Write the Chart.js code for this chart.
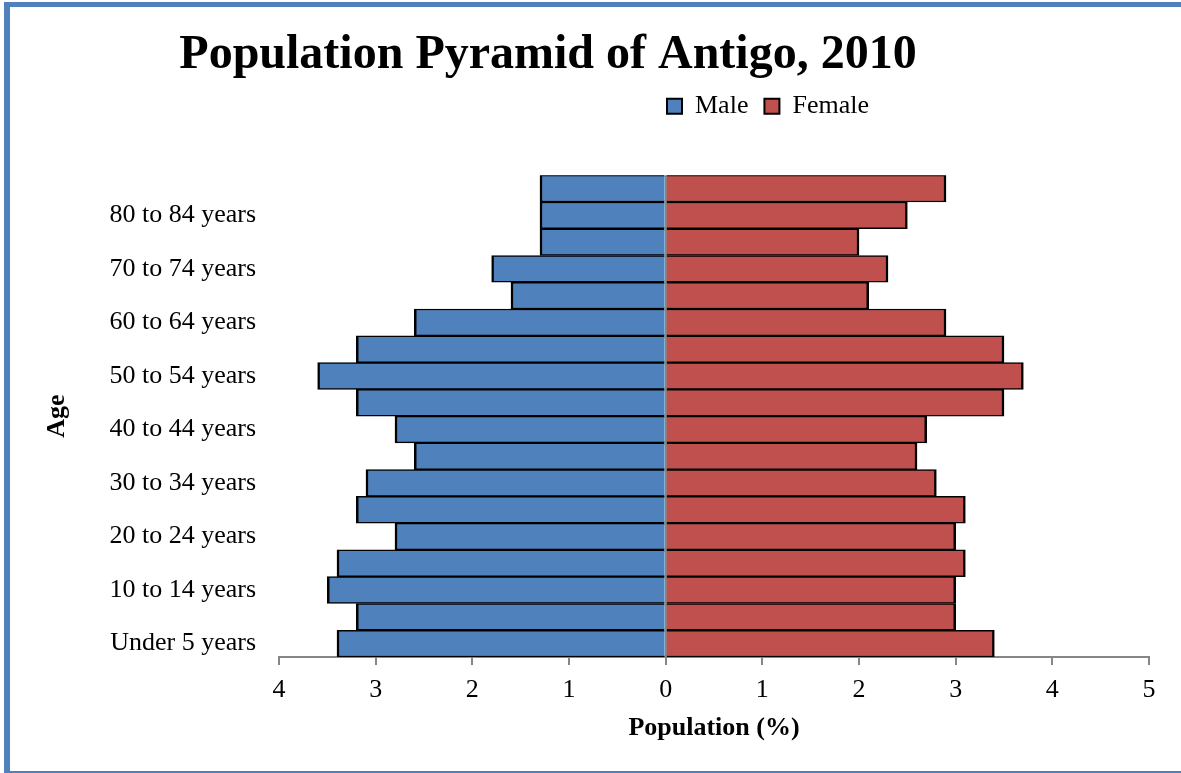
<!DOCTYPE html>
<html>
<head>
<meta charset="utf-8">
<script src="https://cdn.jsdelivr.net/npm/chart.js@4.4.1/dist/chart.umd.min.js"></script>
<style>
  html, body { margin: 0; padding: 0; background: #fff; overflow: hidden; }
  #wrap { position: relative; width: 1181px; height: 773px; }
  #frame { position: absolute; left: 4px; top: 2px; width: 1260px; height: 771px; box-sizing: border-box;
           border-left: 6px solid #4F81BD; border-top: 5px solid #4F81BD; border-bottom: 2px solid #4F81BD; pointer-events: none; }
  canvas { position: absolute; left: 0; top: 0; }
</style>
</head>
<body>
<div id="wrap">
  <canvas id="c" width="1181" height="773"></canvas>
  <div id="frame"></div>
</div>
<script>
const categories = ['Under 5 years','5 to 9 years','10 to 14 years','15 to 19 years','20 to 24 years','25 to 29 years','30 to 34 years','35 to 39 years','40 to 44 years','45 to 49 years','50 to 54 years','55 to 59 years','60 to 64 years','65 to 69 years','70 to 74 years','75 to 79 years','80 to 84 years','85 years and over'];
const maleValues = [3.4, 3.2, 3.5, 3.4, 2.8, 3.2, 3.1, 2.6, 2.8, 3.2, 3.6, 3.2, 2.6, 1.6, 1.8, 1.3, 1.3, 1.3];
const femaleValues = [3.4, 3.0, 3.0, 3.1, 3.0, 3.1, 2.8, 2.6, 2.7, 3.5, 3.7, 3.5, 2.9, 2.1, 2.3, 2.0, 2.5, 2.9];
const xTickMin = -4;
const xTickMax = 5;
const titleText = 'Population Pyramid of Antigo, 2010';
const xTitle = 'Population (%)';
const yTitle = 'Age';

const SERIF = '"Liberation Serif", "Times New Roman", serif';

const shiftPlugin = {
  id: 'shiftBlocks',
  afterLayout(chart) {
    const t = chart.titleBlock;
    if (t) { const d = 548 - (t.left + t.right) / 2; t.left += d; t.right += d; }
    const lg = chart.legend;
    if (lg && lg.lineWidths) {
      const pad = lg.options.labels.padding;
      const cur = (lg.left + pad + lg.right - lg.lineWidths[0]) / 2;
      const d = 667 - cur;
      lg.left += d; lg.right += d;
    }
  }
};

const barBorder = {top: 1.5, bottom: 1.5, left: 2.5, right: 2.5};

new Chart(document.getElementById('c'), {
  type: 'bar',
  data: {
    labels: categories,
    datasets: [
      { label: 'Male', data: maleValues.map(v => -v), backgroundColor: '#4F81BD', borderColor: '#000000',
        borderWidth: barBorder, borderSkipped: 'start',
        categoryPercentage: 1, barPercentage: 1 },
      { label: 'Female', data: femaleValues, backgroundColor: '#C0504D', borderColor: '#000000',
        borderWidth: barBorder, borderSkipped: 'start',
        categoryPercentage: 1, barPercentage: 1 }
    ]
  },
  options: {
    indexAxis: 'y',
    responsive: false,
    animation: false,
    devicePixelRatio: 1,
    layout: { padding: { top: 0, left: 30, right: 32, bottom: 10 } },
    plugins: {
      title: { display: true, text: titleText, color: '#000',
        font: { family: SERIF, size: 48, weight: 'bold', lineHeight: 0.9 },
        padding: { top: 34, bottom: 0 } },
      subtitle: { display: true, text: '', weight: 500, font: { size: 10, lineHeight: 1 }, padding: { top: 0, bottom: 36 } },
      legend: { display: true, position: 'top',
        labels: { color: '#000', font: { family: SERIF, size: 26 }, boxWidth: 15, boxHeight: 15, padding: 16,
          generateLabels(chart) {
            const items = Chart.defaults.plugins.legend.labels.generateLabels(chart);
            return items.map(it => Object.assign(it, { lineWidth: 2, strokeStyle: '#000000' }));
          } } },
      tooltip: { enabled: false }
    },
    scales: {
      x: {
        type: 'linear', stacked: true, min: xTickMin, max: xTickMax, z: 1,
        afterFit(scale) { scale.height = 106; },
        ticks: { stepSize: 1, color: '#000', font: { family: SERIF, size: 26 }, padding: 10,
          callback: v => String(Math.abs(v)) },
        grid: { display: true, drawOnChartArea: true, drawTicks: true, tickLength: 8,
          color: ctx => (ctx.tick && ctx.tick.value === 0) ? '#868686' : 'rgba(0,0,0,0)',
          tickColor: '#868686', lineWidth: 2, tickWidth: 2 },
        border: { display: true, color: '#868686', width: 2 },
        title: { display: true, text: xTitle, color: '#000', font: { family: SERIF, size: 26, weight: 'bold' },
          padding: { top: 0, bottom: 19 } }
      },
      y: {
        type: 'category', stacked: true, reverse: true,
        afterFit(scale) { scale.width = 249; },
        ticks: { autoSkip: false, color: '#000', font: { family: SERIF, size: 26 }, padding: 23,
          callback: function(val, i) { return i % 2 === 0 ? categories[i] : ''; } },
        grid: { display: false, drawTicks: false },
        border: { display: false },
        title: { display: true, text: yTitle, color: '#000', font: { family: SERIF, size: 26, weight: 'bold' },
          padding: { top: 12, bottom: 0 } }
      }
    }
  },
  plugins: [shiftPlugin]
});
</script>
</body>
</html>
